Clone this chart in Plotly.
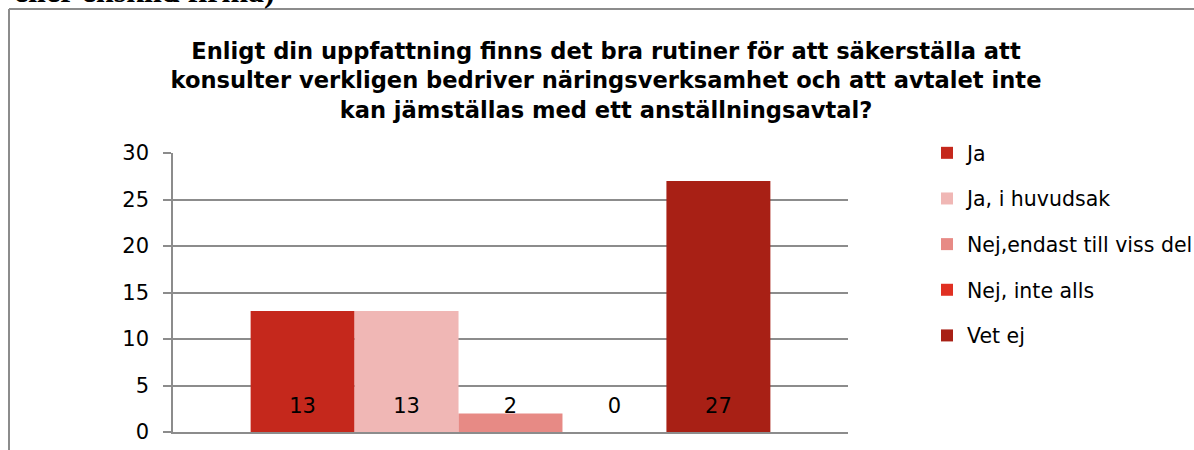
import plotly.graph_objects as go

# ---- data ----
category = [""]
series_names = ["Ja", "Ja, i huvudsak", "Nej,endast till viss del", "Nej, inte alls", "Vet ej"]
series_values = [13, 13, 2, 0, 27]
series_colors = ["#C5281C", "#F0B7B5", "#E78A85", "#E03022", "#A82015"]
title_lines = [
    "Enligt din uppfattning finns det bra rutiner för att säkerställa att",
    "konsulter verkligen bedriver näringsverksamhet och att avtalet inte",
    "kan jämställas med ett anställningsavtal?",
]
y_ticks = [0, 5, 10, 15, 20, 25, 30]
page_text = "eller enskild firma)"

LABEL_Y = 2.6  # vertical placement of data labels (style)
FONT = "DejaVu Sans, Liberation Sans, Arial"

fig = go.Figure()
for i, (name, val, col) in enumerate(zip(series_names, series_values, series_colors)):
    fig.add_trace(go.Bar(
        x=category, y=[val], name=name, marker=dict(color=col, line=dict(width=0)),
        offsetgroup=str(i), legendgroup=str(i), hoverinfo="skip",
    ))
for i, val in enumerate(series_values):
    fig.add_trace(go.Scatter(
        x=category, y=[LABEL_Y], mode="text", text=[str(val)],
        textfont=dict(family=FONT, size=21, color="black"),
        offsetgroup=str(i), legendgroup=str(i), showlegend=False, hoverinfo="skip",
    ))

W, H = 1194, 450
L, R, T, B = 173, 346, 153, 18
pw, ph = W - L - R, H - T - B

def px_x(p):
    return (p - L) / pw

def px_y(p):
    return (H - B - p) / ph

fig.update_layout(
    width=W, height=H,
    margin=dict(l=L, r=R, t=T, b=B, autoexpand=False),
    paper_bgcolor="white", plot_bgcolor="white",
    barmode="group", bargap=0.23, bargroupgap=0,
    scattermode="group", scattergap=0.23,
    font=dict(family=FONT, size=20, color="black"),
    title=dict(
        text="<br>".join(title_lines),
        font=dict(family=FONT, size=22.6, color="black", weight="bold"),
        x=606 / W, xanchor="center", xref="container",
        y=1 - 59 / H, yanchor="top", yref="container",
    ),
    showlegend=True,
    legend=dict(
        xref="container", yref="container",
        x=927 / W, xanchor="left", y=1 - 133 / H, yanchor="top",
        font=dict(family=FONT, size=20.5, color="black"),
        traceorder="grouped", tracegroupgap=16, bgcolor="rgba(0,0,0,0)",
        itemclick=False, itemdoubleclick=False, maxheight=420,
    ),
    xaxis=dict(
        type="category", showticklabels=False, showgrid=False,
        showline=True, linecolor="#8C8C8C", linewidth=1.5, ticks="", zeroline=False,
        fixedrange=True,
    ),
    yaxis=dict(
        range=[0, 30], tickvals=y_ticks, ticktext=[str(v) for v in y_ticks],
        showgrid=True, gridcolor="#8C8C8C", gridwidth=1.5,
        showline=True, linecolor="#8C8C8C", linewidth=1.5,
        ticks="outside", ticklen=8, tickcolor="#8C8C8C", tickwidth=1.5,
        ticklabelstandoff=10, zeroline=False, fixedrange=True,
        tickfont=dict(family=FONT, size=21, color="black"),
    ),
    shapes=[
        dict(type="line", xref="paper", yref="paper",
             x0=px_x(9), x1=px_x(W + 10), y0=px_y(9), y1=px_y(9),
             line=dict(color="#8C8C8C", width=2)),
        dict(type="line", xref="paper", yref="paper",
             x0=px_x(9), x1=px_x(9), y0=px_y(9), y1=px_y(H + 10),
             line=dict(color="#8C8C8C", width=2)),
    ],
    annotations=[
        dict(text="<b>" + page_text + "</b>", xref="paper", yref="paper",
             x=px_x(12), xanchor="left", y=px_y(11), yanchor="bottom",
             showarrow=False,
             font=dict(family="Liberation Serif, Times New Roman", size=32, color="black")),
    ],
)

fig.write_html(
    "out.html",
    config={"displayModeBar": False},
    post_script="document.body.style.margin='0';document.body.style.overflow='hidden';",
)
